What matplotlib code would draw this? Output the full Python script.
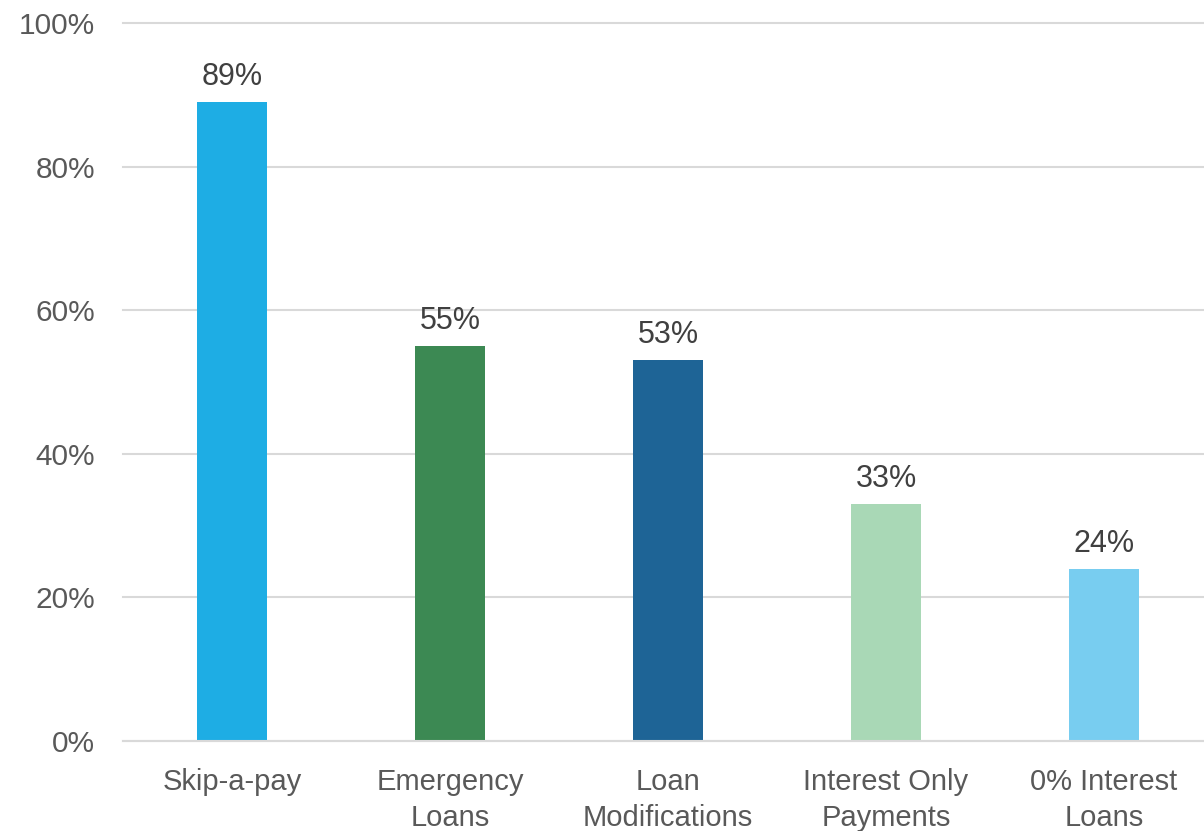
import matplotlib.pyplot as plt
from matplotlib.ticker import FuncFormatter

# chart data
categories = ['Skip-a-pay', 'Emergency\nLoans', 'Loan\nModifications',
              'Interest Only\nPayments', '0% Interest\nLoans']
values = [89, 55, 53, 33, 24]
colors = ['#1EADE4', '#3C8953', '#1E6496', '#A9D8B6', '#78CDF0']
yticks = [0, 20, 40, 60, 80, 100]

plt.rcParams['font.family'] = ['Liberation Sans', 'DejaVu Sans']

fig = plt.figure(figsize=(12.04, 8.31), dpi=100)
ax = fig.add_axes([123 / 1204, 90 / 831, 1 - 123 / 1204, 718 / 831])

x = list(range(len(categories)))
bars = ax.bar(x, values, width=70 / 218, color=colors, zorder=3)

# value labels above bars
for xi, v in zip(x, values):
    ax.annotate(f'{v}%', (xi, v), xytext=(0, 18), textcoords='offset points',
                ha='center', va='center', fontsize=22, color='#404040')

ax.set_xlim(-0.5, (1204 - 123) / 218 - 0.5)
ax.set_ylim(0, 100)
ax.set_yticks(yticks)
ax.yaxis.set_major_formatter(FuncFormatter(lambda v, p: f'{v:.0f}%'))
ax.set_xticks(x)
ax.set_xticklabels(categories, linespacing=1.35)

ax.grid(axis='y', color='#D9D9D9', linewidth=1.5, zorder=0, clip_on=False)
for s in ['top', 'right', 'left']:
    ax.spines[s].set_visible(False)
ax.spines['bottom'].set_color('#D9D9D9')
ax.spines['bottom'].set_linewidth(1.5)
ax.spines['bottom'].set_zorder(4)

ax.tick_params(axis='y', length=0, pad=20, labelsize=21.5, labelcolor='#595959')
ax.tick_params(axis='x', length=0, pad=19.5, labelsize=21, labelcolor='#595959')

fig.savefig('out.png', dpi=100)
